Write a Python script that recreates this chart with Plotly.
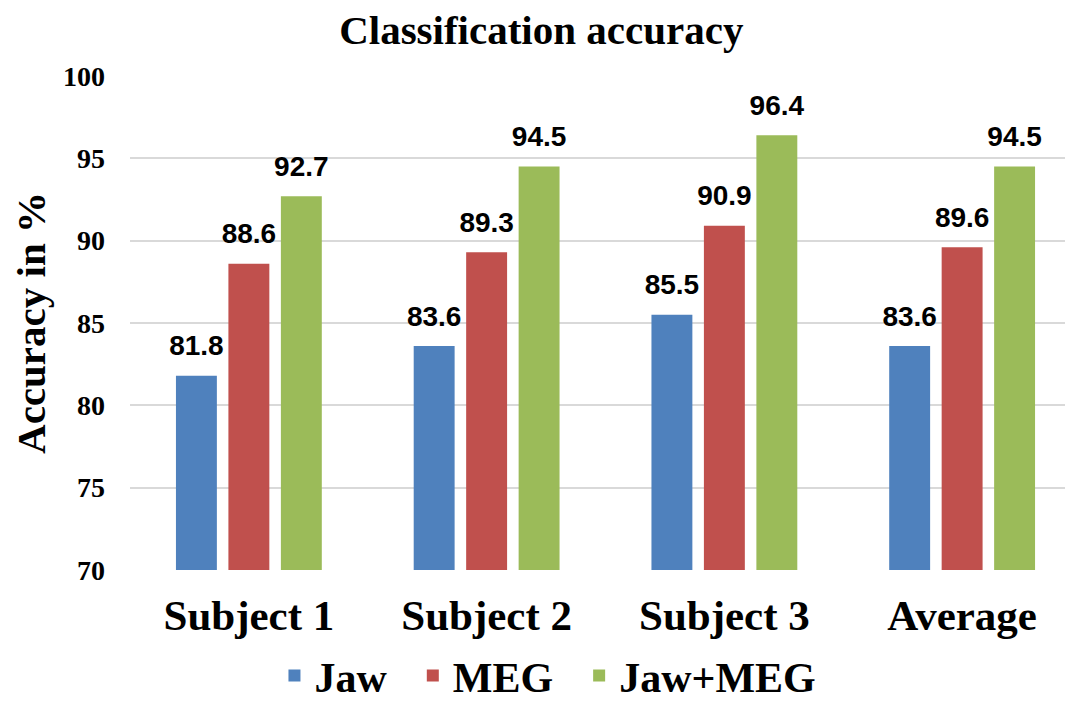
import plotly.graph_objects as go

categories = ["Subject 1", "Subject 2", "Subject 3", "Average"]
jaw = [81.8, 83.6, 85.5, 83.6]
meg = [88.6, 89.3, 90.9, 89.6]
jaw_meg = [92.7, 94.5, 96.4, 94.5]
series_names = ["Jaw", "MEG", "Jaw+MEG"]
colors = ["#4F81BD", "#C0504D", "#9BBB59"]
y_ticks = [70, 75, 80, 85, 90, 95, 100]

GAP = 0.338
fig = go.Figure()
series = [jaw, meg, jaw_meg]
for i, (name, vals, col) in enumerate(zip(series_names, series, colors)):
    pad = "\u00a0\u00a0" if i < len(series_names) - 1 else ""
    fig.add_trace(go.Bar(
        x=categories, y=vals, name=f"<b>{name}</b>{pad}",
        marker=dict(color=col, line=dict(width=0)),
        offsetgroup=str(i), legendgroup=name,
    ))
for i, (name, vals) in enumerate(zip(series_names, series)):
    fig.add_trace(go.Scatter(
        x=categories, y=vals, mode="markers+text",
        text=[f"<b>{v:.1f}</b>" for v in vals],
        textposition="top center",
        textfont=dict(family="Liberation Sans", size=28, color="black"),
        marker=dict(size=20, opacity=0),
        offsetgroup=str(i), legendgroup=name, showlegend=False,
        cliponaxis=False, hoverinfo="skip",
    ))

fig.update_layout(
    width=1073, height=703,
    paper_bgcolor="white", plot_bgcolor="white",
    margin=dict(l=122, r=0, t=68, b=141),
    title=dict(text="<b>Classification accuracy</b>", x=0.497, xanchor="center",
               y=0.9687, yanchor="middle",
               font=dict(family="Liberation Serif", size=41, color="black")),
    barmode="group", bargap=GAP, bargroupgap=0.22,
    scattermode="group", scattergap=GAP,
    showlegend=True,
    legend=dict(orientation="h", x=0.4395, xanchor="center", y=-0.283, yanchor="bottom",
                font=dict(family="Liberation Serif", size=42, color="black"),
                itemwidth=30, traceorder="normal"),
    xaxis=dict(range=[-0.5, 3.5], showline=False, ticks="",
               ticklabelstandoff=16,
               tickfont=dict(family="Liberation Serif", size=43, color="black"),
               tickprefix="<b>", ticksuffix="</b>"),
    yaxis=dict(range=[70, 100], tickvals=y_ticks,
               ticktext=[f"<b>{t}</b>" for t in y_ticks],
               showgrid=True, gridcolor="#D9D9D9", gridwidth=2,
               zeroline=False, showline=False, ticks="", ticklen=0,
               ticklabelstandoff=24,
               tickfont=dict(family="Liberation Serif", size=28, color="black"),
               title=dict(text="<b>Accuracy in %</b>", standoff=7,
                          font=dict(family="Liberation Serif", size=41, color="black"))),
)

fig.write_html("out.html")
